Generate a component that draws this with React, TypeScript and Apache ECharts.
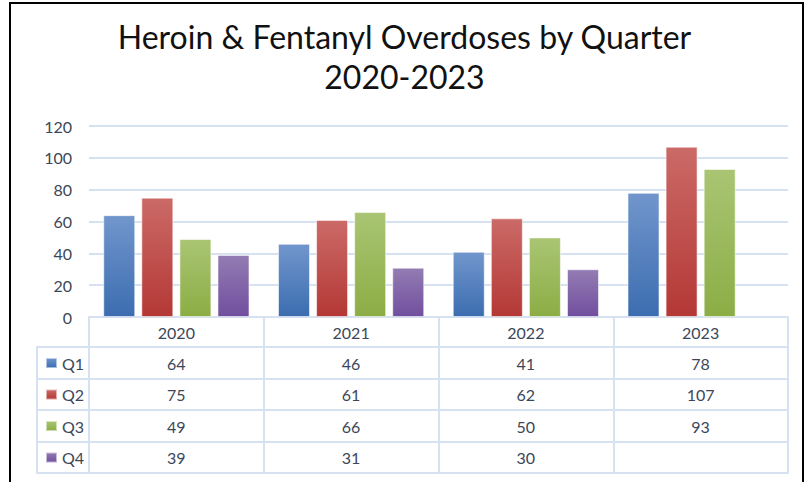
import React, { useEffect, useRef } from "react";
import * as echarts from "echarts";

const years = ["2020", "2021", "2022", "2023"];
const quarters = ["Q1", "Q2", "Q3", "Q4"];
const q1 = [64, 46, 41, 78];
const q2 = [75, 61, 62, 107];
const q3 = [49, 66, 50, 93];
const q4: (number | null)[] = [39, 31, 30, null];
const yTicks = { min: 0, max: 120, interval: 20 };
const titleLines = ["Heroin & Fentanyl Overdoses by Quarter", "2020-2023"];

const seriesValues = [q1, q2, q3, q4];
const gradients = [
  ["#7196cc", "#3c6db0"],
  ["#cb6a67", "#b43835"],
  ["#a9c573", "#8cad45"],
  ["#937cb3", "#714f9e"],
];

const FONT = "Lato, 'Open Sans', sans-serif";
const TEXT = "#3b4759";
const LINE = "#d6e2f1";

// table row line offsets below plot bottom
const rowOffsets = [0, 30, 61.5, 93, 124.5, 156];

export default function App() {
  const ref = useRef<HTMLDivElement>(null);
  useEffect(() => {
    if (!ref.current) return;
    const chart = echarts.init(ref.current, undefined, { renderer: "svg" });

    const gridBottom = 165;
    const lineStyle = { color: LINE, width: 2 };
    const xAxes: any[] = [];
    xAxes.push({
      type: "category",
      gridIndex: 0,
      data: years,
      position: "bottom",
      offset: 0,
      axisLine: { show: true, onZero: false, lineStyle },
      axisTick: { show: true, length: rowOffsets[1] - rowOffsets[0], lineStyle },
      axisLabel: { color: TEXT, fontSize: 16, fontFamily: FONT, margin: 15, verticalAlign: "middle" },
    });
    seriesValues.forEach((vals, r) => {
      xAxes.push({
        type: "category",
        gridIndex: 0,
        data: vals.map((v) => (v == null ? "" : String(v))),
        position: "bottom",
        offset: rowOffsets[r + 1],
        axisLine: { show: true, onZero: false, lineStyle },
        axisTick: { show: true, length: rowOffsets[r + 2] - rowOffsets[r + 1], lineStyle },
        axisLabel: { color: TEXT, fontSize: 16, fontFamily: FONT, margin: 16, verticalAlign: "middle" },
      });
    });
    xAxes.push({
      type: "category",
      gridIndex: 0,
      data: years,
      position: "bottom",
      offset: rowOffsets[5],
      axisLine: { show: true, onZero: false, lineStyle },
      axisTick: { show: false },
      axisLabel: { show: false },
    });
    for (let r = 1; r <= 5; r++) {
      xAxes.push({
        type: "category",
        gridIndex: 1,
        data: [""],
        position: "bottom",
        offset: rowOffsets[r],
        axisLine: { show: true, onZero: false, lineStyle },
        axisTick: r < 5
          ? { show: true, length: rowOffsets[r + 1] - rowOffsets[r], lineStyle }
          : { show: false },
        axisLabel: { show: false },
      });
    }

    const titleStyle = {
      fontFamily: FONT,
      fontSize: 32,
      fontWeight: "normal",
      color: "#111111",
    };

    const option: any = {
      animation: false,
      backgroundColor: "#ffffff",
      title: [
        { text: titleLines[0], left: "center", top: 20, textStyle: titleStyle, padding: 0 },
        { text: titleLines[1], left: "center", top: 60, textStyle: titleStyle, padding: 0 },
      ],
      legend: {
        orient: "vertical",
        left: 45,
        top: 355,
        itemWidth: 11,
        itemHeight: 10,
        itemGap: 15.5,
        icon: "rect",
        selectedMode: false,
        padding: 0,
        data: quarters,
        textStyle: { color: TEXT, fontSize: 16, fontFamily: FONT },
      },
      grid: [
        { left: 89, right: 21, top: 126, bottom: gridBottom, containLabel: false },
        { left: 37, width: 52, top: 126, bottom: gridBottom, containLabel: false },
      ],
      xAxis: xAxes,
      yAxis: [
        {
          type: "value",
          gridIndex: 0,
          min: yTicks.min,
          max: yTicks.max,
          interval: yTicks.interval,
          axisLine: { show: false },
          axisTick: { show: false },
          axisLabel: { color: TEXT, fontSize: 16, fontFamily: FONT, margin: 17 },
          splitLine: { show: true, lineStyle },
        },
        { type: "value", gridIndex: 1, show: false, min: 0, max: 1 },
      ],
      series: quarters.map((q, i) => ({
        name: q,
        type: "bar",
        xAxisIndex: 0,
        yAxisIndex: 0,
        data: seriesValues[i],
        barWidth: 32,
        barGap: "19%",
        itemStyle: {
          color: new echarts.graphic.LinearGradient(0, 0, 0, 1, [
            { offset: 0, color: gradients[i][0] },
            { offset: 1, color: gradients[i][1] },
          ]),
          borderColor: "rgba(255,255,255,0.55)",
          borderWidth: 1,
        },
      })),
      graphic: [
        {
          type: "rect",
          shape: { x: 10, y: 3, width: 793, height: 500 },
          style: { fill: "none", stroke: "#000000", lineWidth: 2 },
          silent: true,
        },
      ],
    };
    chart.setOption(option);
    return () => chart.dispose();
  }, []);

  return (
    <div
      ref={ref}
      style={{ position: "fixed", left: 0, top: 0, width: 809, height: 482 }}
    />
  );
}
